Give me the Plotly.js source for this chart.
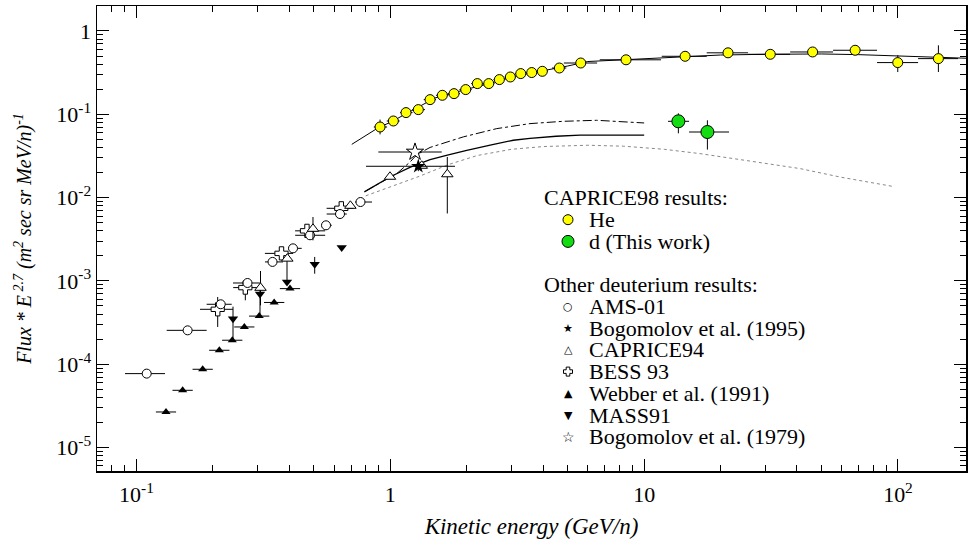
<!DOCTYPE html>
<html><head><meta charset="utf-8">
<script src="https://cdn.plot.ly/plotly-3.0.1.min.js"></script>
<style>body{margin:0;padding:0;background:#fff}#chart{width:969px;height:543px}</style>
</head><body><div id="chart"></div>
<script>
// ---------- data ----------
// CAPRICE98 He
const heE = [0.911,1.028,1.153,1.289,1.434,1.603,1.782,1.982,2.202,2.442,2.689,2.971,3.265,3.607,3.971,4.634,5.627,8.486,14.5,21.4,31.4,46.1,67.8,99.8,144.3];
const heF = [0.0704,0.0831,0.1048,0.1138,0.150,0.169,0.177,0.198,0.2336,0.2336,0.261,0.2805,0.308,0.317,0.328,0.3595,0.4127,0.451,0.497,0.547,0.525,0.560,0.587,0.4175,0.466];
const heEp = [0.06,0.06,0.07,0.08,0.08,0.09,0.10,0.11,0.12,0.13,0.15,0.16,0.18,0.19,0.21,0.3,0.9,3.17,3.14,4.27,6.17,9.4,14.9,20.2,28.3];
const heEm = [0.05,0.06,0.06,0.07,0.08,0.09,0.10,0.11,0.12,0.13,0.14,0.15,0.17,0.18,0.20,0.3,0.8,1.8,2.77,3.76,5.73,8.5,12.3,17.1,24.3];
const heFp = [0.016,0,0,0,0,0,0,0,0,0,0,0,0,0,0,0,0,0,0,0,0,0,0,0.094,0.207];
const heFm = [0.013,0,0,0,0,0,0,0,0,0,0,0,0,0,0,0,0,0,0,0,0,0,0,0.096,0.144];
// CAPRICE98 d (this work)
const dE = [13.64,17.75];
const dF = [0.0824,0.0613];
const dEp = [1.39,3.85], dEm = [1.22,2.72];
const dFp = [0.0204,0.0234], dFm = [0.0233,0.0236];
// AMS-01
const amsE = [0.1097,0.159,0.2147,0.2737,0.3435,0.4136,0.4828,0.558,0.6335,0.763];
const amsF = [7.71e-5,2.55e-4,5.24e-4,9.44e-4,1.69e-3,2.46e-3,3.53e-3,4.65e-3,6.35e-3,8.85e-3];
const amsEp = [0.0198,0.030,0.0225,0.0326,0.0342,0.034,0.071,0.03,0.040,0.084];
const amsEm = [0.0196,0.0275,0.0257,0.0337,0.0227,0.018,0.061,0.02,0.072,0.037];
// Bogomolov et al. (1995)
const bog95E = [1.289], bog95F = [0.02377];
const bog95Ep = [0.509], bog95Em = [0.487], bog95Fp = [0.003], bog95Fm = [0.003];
// CAPRICE94
const c94E = [0.308,0.3928,0.4958,0.696,0.997,1.33,1.677];
const c94F = [8.26e-4,1.85e-3,4.22e-3,7.97e-3,0.01778,0.0241,0.01905];
const c94Fp = [4.89e-4,0,1.63e-3,0,0,0,0.0117];
const c94Fm = [3.17e-4,0,1.15e-3,0,0,0,0.0126];
// BESS 93
const bessE = [0.2089,0.2684,0.3726,0.4695,0.641];
const bessF = [4.56e-4,8.31e-4,2.14e-3,3.99e-3,7.44e-3];
const bessEp = [0.031,0.038,0.041,0.084,0.074];
const bessEm = [0.031,0.028,0.052,0.048,0.080];
const bessFp = [1.85e-4,1.9e-4,0,0,0];
const bessFm = [1.76e-4,2.46e-4,0,0,0];
// Webber et al. (1991)
const webE = [0.1307,0.152,0.1823,0.212,0.2384,0.266,0.3044,0.3487,0.4025];
const webF = [2.67e-5,4.86e-5,8.69e-5,1.47e-4,1.94e-4,2.80e-4,3.78e-4,5.51e-4,8.08e-4];
const webEp = [0.0125,0.0146,0.0175,0.0204,0.0229,0.0255,0.0292,0.0335,0.0386];
const webEm = [0.0115,0.0134,0.0160,0.0187,0.0210,0.0234,0.0268,0.0307,0.0354];
// MASS91
const massE = [0.24,0.3066,0.3917,0.5036,0.6433];
const massF = [3.51e-4,6.94e-4,9.7e-4,1.58e-3,2.51e-3];
const massFp = [1.4e-4,2.36e-4,8.0e-4,3.6e-4,0];
const massFm = [1.55e-4,3.25e-4,0,3.6e-4,0];
// Bogomolov et al. (1979)
const bog79E = [1.251], bog79F = [0.03526];
const bog79Ep = [0.343], bog79Em = [0.354], bog79Fp = [0.004], bog79Fm = [0.004];
// model curves
const heModelE = [0.705,0.8,0.9,1.0,1.2,1.5,2,2.5,3,4,5,6,8,10,15,20,30,50,70,100,150,190];
const heModelF = [0.0436,0.0552,0.0695,0.080,0.108,0.157,0.200,0.237,0.282,0.330,0.380,0.430,0.450,0.470,0.500,0.515,0.525,0.530,0.520,0.505,0.480,0.470];
const dSolidE = [0.79,0.9,1.0,1.2,1.434,1.693,2.0,2.5,3.05,3.55,4.5,5.6,7,8.8,10];
const dSolidF = [0.0117,0.0148,0.0178,0.0232,0.0285,0.0325,0.037,0.043,0.0488,0.0515,0.0545,0.0562,0.0565,0.0563,0.0561];
const dDashE = [0.8,0.9,1.0,1.06,1.2,1.25,1.3,1.434,1.94,2.625,3.55,4.8,6.5,8.8,10];
const dDashF = [0.0120,0.0148,0.0178,0.0194,0.027,0.031,0.034,0.040,0.0536,0.0673,0.0773,0.0824,0.0847,0.0808,0.0787];
const dDotE = [0.8,1.0,1.3,1.7,2.2,3,4,6,8.3,12,16.6,25,41.1,60,94.5];
const dDotF = [0.0105,0.0135,0.018,0.025,0.032,0.038,0.041,0.0425,0.0414,0.038,0.0337,0.028,0.0223,0.0175,0.0137];
// axis ticks
const xTickVals = [0.1,1,10,100];
const xTickText = ['10<sup>-1</sup>','1','10','10<sup>2</sup>'];
const yTickVals = [1e-5,1e-4,1e-3,1e-2,1e-1,1];
const yTickText = ['10<sup>-5</sup>','10<sup>-4</sup>','10<sup>-3</sup>','10<sup>-2</sup>','10<sup>-1</sup>','1'];
// legend
const legendHeaders = ['CAPRICE98 results:','Other deuterium results:'];
const legendLabels = ['He','d (This work)','AMS-01','Bogomolov et al. (1995)','CAPRICE94','BESS 93','Webber et al. (1991)','MASS91','Bogomolov et al. (1979)'];
const legendGlyphs = ['','','\u25CB','\u2605','\u25B3','','\u25B2','\u25BC','\u2606'];

// ---------- layout helpers ----------
const W=969, H=543, L=97, R=3, T=6, B=72;
const pw=W-L-R, ph=H-T-B;
const px=x=>(x-L)/pw, py=y=>1-(y-T)/ph;
const headerRows=[198,284.8];
const itemRows=[219.7,241.4,306.5,328.2,349.9,371.6,393.3,415,436.7];
const headerX=543, glyphX=568, textX=588;

const eb=(p,m)=>({type:'data',symmetric:false,array:p,arrayminus:m,color:'black',thickness:1,width:0});
const traces=[
 {x:heModelE,y:heModelF,mode:'lines',line:{color:'black',width:1}},
 {x:dSolidE,y:dSolidF,mode:'lines',line:{color:'black',width:1.3}},
 {x:dDashE,y:dDashF,mode:'lines',line:{color:'black',width:1,dash:'dashdot'}},
 {x:dDotE,y:dDotF,mode:'lines',line:{color:'#888',width:1,dash:'dot'}},
 {x:webE,y:webF,mode:'markers',marker:{symbol:'triangle-up',size:8,color:'black'},error_x:eb(webEp,webEm)},
 {x:massE,y:massF,mode:'markers',marker:{symbol:'triangle-down',size:9,color:'black'},error_y:eb(massFp,massFm)},
 {x:bessE,y:bessF,mode:'markers',marker:{symbol:'cross-thin-open',size:0,color:'black'},error_x:eb(bessEp,bessEm),error_y:eb(bessFp,bessFm)},
 {x:bessE,y:bessF,mode:'markers',marker:{symbol:'cross',size:11,color:'white',line:{color:'black',width:1}}},
 {x:amsE,y:amsF,mode:'markers',marker:{symbol:'circle',size:9,color:'white',line:{color:'black',width:1}},error_x:eb(amsEp,amsEm)},
 {x:c94E,y:c94F,mode:'markers',marker:{symbol:'triangle-up',size:10,color:'white',line:{color:'black',width:1}},error_y:eb(c94Fp,c94Fm)},
 {x:bog79E,y:bog79F,mode:'markers',marker:{symbol:'star',size:13,color:'white',line:{color:'black',width:1}},error_x:eb(bog79Ep,bog79Em),error_y:eb(bog79Fp,bog79Fm)},
 {x:bog95E,y:bog95F,mode:'markers',marker:{symbol:'star',size:11,color:'black'},error_x:eb(bog95Ep,bog95Em),error_y:eb(bog95Fp,bog95Fm)},
 {x:heE,y:heF,mode:'markers',marker:{symbol:'circle',size:10,color:'#ffff00',line:{color:'black',width:1}},error_x:eb(heEp,heEm),error_y:eb(heFp,heFm)},
 {x:dE,y:dF,mode:'markers',marker:{symbol:'circle',size:13,color:'#11dd11',line:{color:'black',width:1}},error_x:eb(dEp,dEm),error_y:eb(dFp,dFm)}
];

const serif='"Liberation Serif", serif';
const ann=[];
legendHeaders.forEach((t,i)=>ann.push({xref:'paper',yref:'paper',x:px(headerX),y:py(headerRows[i]),xanchor:'left',yanchor:'middle',text:t,showarrow:false,borderpad:0,font:{family:serif,size:22,color:'black'}}));
legendLabels.forEach((t,i)=>{
  ann.push({xref:'paper',yref:'paper',x:px(textX),y:py(itemRows[i]),xanchor:'left',yanchor:'middle',text:t,showarrow:false,borderpad:0,font:{family:serif,size:22,color:'black'}});
  if(legendGlyphs[i]) ann.push({xref:'paper',yref:'paper',x:px(glyphX),y:py(itemRows[i]),xanchor:'center',yanchor:'middle',text:legendGlyphs[i],showarrow:false,borderpad:0,font:{family:'DejaVu Sans',size:(i===8?14:11),color:'black'}});
});
const legendCircles=[{row:0,r:5,c:'#ffff00'},{row:1,r:6,c:'#11dd11'}];
const shapes=legendCircles.map(o=>({type:'circle',xref:'paper',yref:'paper',x0:px(glyphX-o.r),x1:px(glyphX+o.r),y0:py(itemRows[o.row]+o.r),y1:py(itemRows[o.row]-o.r),fillcolor:o.c,line:{color:'black',width:1}}));
// open cross key for BESS 93
(function(){const r=itemRows[5],a=4.5,b=1.8,cx=glyphX;
 const pts=[[cx-b,r-a],[cx+b,r-a],[cx+b,r-b],[cx+a,r-b],[cx+a,r+b],[cx+b,r+b],[cx+b,r+a],[cx-b,r+a],[cx-b,r+b],[cx-a,r+b],[cx-a,r-b],[cx-b,r-b]];
 shapes.push({type:'path',xref:'paper',yref:'paper',path:'M'+pts.map(p=>px(p[0])+','+py(p[1])).join('L')+'Z',fillcolor:'white',line:{color:'black',width:1}});})();

const axisCommon={type:'log',ticks:'inside',ticklen:12,tickwidth:1,tickcolor:'black',showline:true,linecolor:'black',linewidth:1.5,mirror:'ticks',showgrid:false,zeroline:false,tickfont:{family:serif,size:22,color:'black'},minor:{ticks:'inside',ticklen:6,tickwidth:1,tickcolor:'black',dtick:'D1',showgrid:false}};
const layout={
 width:W,height:H,margin:{l:L,r:R,t:T,b:B,pad:0},
 paper_bgcolor:'white',plot_bgcolor:'white',showlegend:false,
 font:{family:serif,color:'black'},
 xaxis:Object.assign({},axisCommon,{range:[-1.1556,2.268],tickmode:'array',tickvals:xTickVals,ticktext:xTickText,ticklabelstandoff:3,
   title:{text:'<i>Kinetic energy (GeV/n)</i>',font:{family:serif,size:23,color:'black'},standoff:12}}),
 yaxis:Object.assign({},axisCommon,{range:[-5.282,0.300],tickmode:'array',tickvals:yTickVals,ticktext:yTickText,
   title:{text:'<i>Flux * E<sup> 2.7</sup> (m<sup>2</sup> sec sr MeV/n)<sup>-1</sup></i>',font:{family:serif,size:20,color:'black'},standoff:19}}),
 annotations:ann,shapes:shapes
};
Plotly.newPlot('chart',traces,layout,{displayModeBar:false,staticPlot:true});
</script></body></html>
